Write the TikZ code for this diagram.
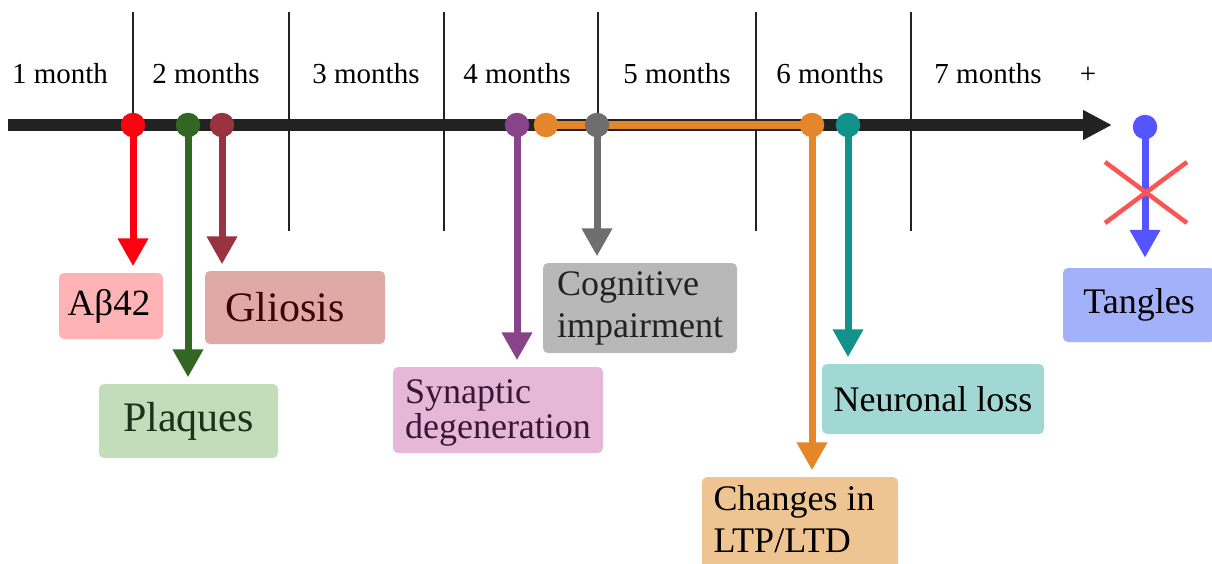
\documentclass[tikz,border=0pt]{standalone}
\usepackage{fontspec}
\setmainfont{Liberation Serif}
\usetikzlibrary{arrows.meta}
\definecolor{axisc}{HTML}{222222}
\definecolor{cred}{HTML}{FF0011}
\definecolor{credbox}{HTML}{FFB3B5}
\definecolor{cgreen}{HTML}{336622}
\definecolor{cgreenbox}{HTML}{C3DDBB}
\definecolor{cgreentxt}{HTML}{1B3316}
\definecolor{cbrown}{HTML}{993340}
\definecolor{cbrownbox}{HTML}{DFA9A5}
\definecolor{cbrowntxt}{HTML}{3A0505}
\definecolor{cpurple}{HTML}{884488}
\definecolor{cpurplebox}{HTML}{E6B8D7}
\definecolor{cpurpletxt}{HTML}{3B1535}
\definecolor{corange}{HTML}{E6862A}
\definecolor{corangebox}{HTML}{EEC592}
\definecolor{cgray}{HTML}{6E6E6E}
\definecolor{cgraybox}{HTML}{B8B8B8}
\definecolor{cteal}{HTML}{11928A}
\definecolor{ctealbox}{HTML}{A2D8D4}
\definecolor{cblue}{HTML}{5555FF}
\definecolor{cbluebox}{HTML}{A3B0FA}
\definecolor{cx}{HTML}{FF5454}
\begin{document}
\begin{tikzpicture}[x=1pt,y=-1pt,
  sepline/.style={line width=2.2pt, draw=axisc},
  dot/.style={circle, fill=#1, minimum size=24.5pt, inner sep=0pt},
  conn/.style={line width=7pt, draw=#1, -{Triangle[width=29pt,length=28pt]}, shorten >=6.5pt},
  box/.style={rounded corners=5pt, fill=#1, inner sep=0pt},
  mlabel/.style={font=\fontsize{29}{34}\selectfont, anchor=base, text=black},
  big/.style={font=\fontsize{42}{48}\selectfont},
  mid/.style={font=\fontsize{36}{42}\selectfont}]
\useasboundingbox (0,0) rectangle (1212,563);

% separators
\foreach \x in {133,289,444,598,756,911}
  \draw[sepline] (\x,12) -- (\x,231);

% month labels
\node[mlabel] (m1) at (60,83) {1 month};
\node[mlabel] (m2) at (206,83) {2 months};
\node[mlabel] (m3) at (366,83) {3 months};
\node[mlabel] (m4) at (517,83) {4 months};
\node[mlabel] (m5) at (677,83) {5 months};
\node[mlabel] (m6) at (830,83) {6 months};
\node[mlabel] (m7) at (988,83) {7 months};
\node[mlabel] (mp) at (1088,83) {+};

% axis
\coordinate (a0) at (8,125);
\coordinate (a1) at (1112,125);
\draw[line width=12pt, draw=axisc, -{Triangle[width=28pt,length=29pt]}] (a0) -- (a1);

% dots (positions)
\coordinate (p1) at (133,125);
\coordinate (p2) at (188,125);
\coordinate (p3) at (222,125);
\coordinate (p4) at (517,125);
\coordinate (p5) at (546,125);
\coordinate (p6) at (597,125);
\coordinate (p7) at (812,125);
\coordinate (p8) at (848,125);
\coordinate (p9) at (1145,127);

% orange span
\draw[line width=8pt, draw=corange] (p5) -- (p7);

% boxes
\node[box=credbox, minimum width=104pt, minimum height=66pt] (ab) at (111,306)
  {\fontsize{37}{42}\selectfont Aβ42\hspace*{4pt}};
\node[box=cbrownbox, minimum width=180pt, minimum height=73pt, text=cbrowntxt, big] (gl) at (295,307.5)
  {Gliosis\hspace*{20pt}};
\node[box=cgreenbox, minimum width=179pt, minimum height=74pt, text=cgreentxt, big] (pl) at (188.5,421)
  {Plaques};
\node[box=cpurplebox, minimum width=210pt, minimum height=86pt, text=cpurpletxt, align=left,
  font=\fontsize{36}{35}\selectfont] (syn) at (498,410)
  {\rule{0pt}{30pt}Synaptic\\degeneration};
\node[box=cgraybox, minimum width=194pt, minimum height=90pt, text=axisc, align=left, mid] (cog) at (640,308)
  {Cognitive\\impairment};
\node[box=corangebox, minimum width=196pt, minimum height=98pt, align=left, mid] (chg) at (800,526)
  {Changes in\hspace*{12pt}\\LTP/LTD\rule[-14pt]{0pt}{14pt}};
\node[box=ctealbox, minimum width=222pt, minimum height=70pt, mid] (neu) at (933,399)
  {Neuronal loss};
\node[box=cbluebox, minimum width=152pt, minimum height=74pt, mid] (tan) at (1139,305)
  {Tangles};

% connectors
\draw[conn=cred] (p1) -- (p1 |- ab.north);
\draw[conn=cgreen] (p2) -- (p2 |- pl.north);
\draw[conn=cbrown] (p3) -- (p3 |- gl.north);
\draw[conn=cpurple] (p4) -- (p4 |- syn.north);
\draw[conn=cgray] (p6) -- (p6 |- cog.north);
\draw[conn=corange] (p7) -- (p7 |- chg.north);
\draw[conn=cteal] (p8) -- (p8 |- neu.north);
\draw[conn=cblue, shorten >=10pt] (p9) -- (p9 |- tan.north);

% dots
\node[dot=cred] (d1) at (p1) {};
\node[dot=cgreen] (d2) at (p2) {};
\node[dot=cbrown] (d3) at (p3) {};
\node[dot=cpurple] (d4) at (p4) {};
\node[dot=corange] (d5) at (p5) {};
\node[dot=cgray] (d6) at (p6) {};
\node[dot=corange] (d7) at (p7) {};
\node[dot=cteal] (d8) at (p8) {};
\node[dot=cblue] (d9) at (p9) {};

% cross
\coordinate (x1) at (1105,162);
\coordinate (x2) at (1187,223);
\coordinate (x3) at (1105,223);
\coordinate (x4) at (1187,162);
\draw[line width=4.5pt, draw=cx] (x1) -- (x2);
\draw[line width=4.5pt, draw=cx] (x3) -- (x4);
\end{tikzpicture}
\end{document}
